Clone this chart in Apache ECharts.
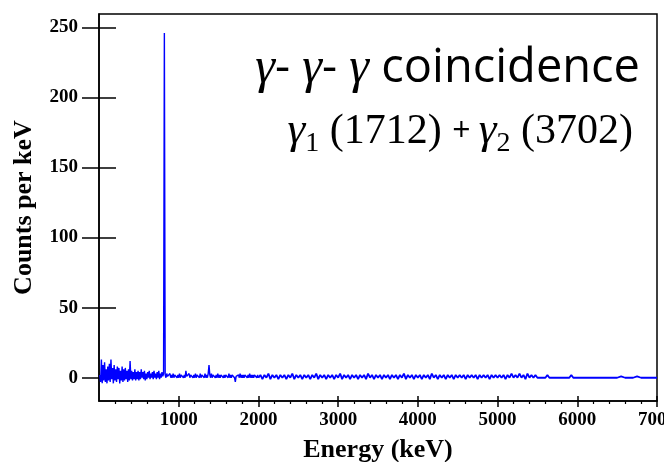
<!DOCTYPE html>
<html>
<head>
<meta charset="utf-8">
<script src="https://cdn.jsdelivr.net/npm/echarts@6/dist/echarts.min.js"></script>
<style>
  html, body { margin: 0; padding: 0; background: #ffffff; }
  #chart { width: 664px; height: 462px; }
</style>
</head>
<body>
<div id="chart"></div>
<script>
// Triple-coincidence gamma spectrum: counts per keV against energy.
// Low-energy part is stored in 10 keV bins, the rest in 25 keV bins.
const lowStart = 10, lowStep = 10;      // bins 10 .. 2000 keV
const highStart = 2025, highStep = 25;  // bins 2025 .. 7000 keV

const counts10to1000 = [
  2, -3, 13, -4, 9, -2, 11, -3, 6, -4,
  8, -2, 10, -3, 13, -1, 7, -4, 9, -2,
  6, -3, 8, -1, 7, -4, 5, -2, 8, -3,
  6, -2, 7, -1, 5, -3, 6, -2, 12, -1,
  5, -2, 4, -1, 6, -2, 4, -1, 5, -2,
  4, -1, 6, 0, 4, -1, 5, -2, 3, -1,
  4, 0, 5, -1, 3, 0, 4, -1, 5, 0,
  3, -1, 4, 0, 5, -1, 3, 0, 4, 1,
  3, 246, 2, 0, 3, 1, 2, 0, 3, 0,
  2, 0, 3, 0, 2, 1, 3, 0, 2, 0
];
const counts1010to2000 = [
  3, 0, 2, 1, 3, 0, 2, 0, 5, 1,
  2, 0, 3, 0, 2, 1, 3, 0, 2, 0,
  3, 0, 2, 1, 2, 0, 3, 0, 2, 1,
  2, 0, 3, 0, 2, 0, 3, 9, 2, 0,
  3, 0, 2, 1, 3, 0, 2, 0, 3, 0,
  2, 0, 2, 1, 3, 0, 2, 0, 2, 1,
  2, 0, 3, 0, 2, 0, 2, 1, 2, 0,
  -3, 1, 2, 0, 2, 0, 3, 0, 2, 0,
  2, 0, 2, 1, 2, 0, 2, 0, 3, 0,
  2, 0, 2, 0, 2, 1, 2, 0, 2, 0
];
const counts2025to4500 = [
  2, -1, 2, 0, 3, -1, 2, 0, 2, -1,
  2, 0, 2, -1, 2, 0, 3, -1, 2, 0,
  2, -1, 2, 0, 2, -1, 2, 0, 3, -1,
  2, 0, 2, -1, 2, 0, 2, -1, 2, 0,
  3, -1, 2, 0, 2, -1, 2, 0, 2, -1,
  2, 0, 2, -1, 3, 0, 2, -1, 2, 0,
  2, -1, 2, 0, 2, -1, 2, 0, 2, -1,
  2, 0, 3, -1, 2, 0, 2, -1, 2, 0,
  2, -1, 2, 0, 2, -1, 3, 0, 2, -1,
  2, 0, 2, -1, 2, 0, 2, -1, 2, 0
];
const counts4525to7000 = [
  2, 0, 2, -1, 2, 0, 2, 0, 2, -1,
  2, 0, 2, 0, 2, -1, 2, 0, 2, 0,
  2, 0, 2, -1, 2, 0, 3, 0, 2, 0,
  3, 0, 2, -1, 3, 0, 2, 0, 2, 0,
  1, 0, 1, 0, 2, 0, 1, 0, 1, 0,
  1, 0, 1, 0, 1, 0, 2, 0, 1, 0,
  1, 0, 1, 0, 1, 0, 1, 0, 0, 0,
  0, 0, 0, 0, 0, 0, 0, 0, 0, 0,
  0, 1, 0, 0, 0, 0, 0, 0, 0, 1,
  0, 0, 0, 0, 0, 0, 0, 0, 0, 0
];

const yTickValues = [0, 50, 100, 150, 200, 250];
const xTickValues = [1000, 2000, 3000, 4000, 5000, 6000, 7000];

// Pair each bin with its energy
const lowBins = counts10to1000.concat(counts1010to2000)
  .map((c, i) => [lowStart + i * lowStep, c]);
const highBins = counts2025to4500.concat(counts4525to7000)
  .map((c, i) => [highStart + i * highStep, c]);
// the coarse part continues from the last fine bin
const highTrace = [lowBins[lowBins.length - 1]].concat(highBins);

const serifBold = { fontFamily: 'Liberation Serif', fontWeight: 'bold', color: '#000' };
const plainNumber = v => String(v);
const yMin = -16.6, yMax = 259.5;

const chart = echarts.init(document.getElementById('chart'), null, { renderer: 'canvas' });
chart.setOption({
  animation: false,
  backgroundColor: '#ffffff',
  grid: {
    left: 99, right: 7, top: 14, bottom: 61,
    outerBoundsMode: 'none', containLabel: false,
    show: true, borderColor: '#000', borderWidth: 1.5, backgroundColor: 'transparent'
  },
  xAxis: [
    {
      type: 'value', min: 0, max: 7000, interval: 1000,
      name: 'Energy (keV)', nameLocation: 'middle', nameGap: 36,
      nameTextStyle: Object.assign({ fontSize: 26 }, serifBold),
      axisLine: { show: true, onZero: false, lineStyle: { color: '#000', width: 1.5 } },
      axisTick: { show: true, inside: false, length: 6, customValues: xTickValues,
                  lineStyle: { color: '#000', width: 1.5 } },
      minorTick: { show: true, splitNumber: 5, length: 3, lineStyle: { color: '#000', width: 1.2 } },
      axisLabel: Object.assign({ fontSize: 19, margin: 10, customValues: xTickValues,
                                 formatter: plainNumber }, serifBold),
      splitLine: { show: false }, minorSplitLine: { show: false }
    },
    {
      type: 'value', min: 0, max: 7000, interval: 1000, position: 'bottom',
      axisLine: { show: false, onZero: false },
      axisTick: { show: true, inside: true, length: 5, customValues: xTickValues,
                  lineStyle: { color: '#000', width: 1.5 } },
      axisLabel: { show: false }, splitLine: { show: false }
    }
  ],
  yAxis: [
    {
      type: 'value', min: yMin, max: yMax,
      name: 'Counts per keV', nameLocation: 'middle', nameGap: 62, nameRotate: 90,
      nameTextStyle: Object.assign({ fontSize: 26 }, serifBold),
      axisLine: { show: true, onZero: false, lineStyle: { color: '#000', width: 1.5 } },
      axisTick: { show: true, inside: false, length: 17, customValues: yTickValues,
                  lineStyle: { color: '#000', width: 1.5 } },
      axisLabel: Object.assign({ fontSize: 19, margin: 21, customValues: yTickValues,
                                 formatter: plainNumber }, serifBold),
      splitLine: { show: false }
    },
    {
      type: 'value', min: yMin, max: yMax, position: 'left',
      axisLine: { show: false, onZero: false },
      axisTick: { show: true, inside: true, length: 17, customValues: yTickValues,
                  lineStyle: { color: '#000', width: 1.5 } },
      axisLabel: { show: false }, splitLine: { show: false }
    }
  ],
  series: [
    {
      type: 'line', data: lowBins, xAxisIndex: 0, yAxisIndex: 0,
      showSymbol: false, lineStyle: { color: '#0000ff', width: 1.4 }, z: 1
    },
    {
      type: 'line', data: highTrace, xAxisIndex: 0, yAxisIndex: 0,
      showSymbol: false, lineStyle: { color: '#0000ff', width: 1.8 }, z: 1
    }
  ],
  graphic: [
    {
      type: 'text', right: 24, top: 44, z: 10,
      style: {
        text: '{g|γ}{s|- }{g|γ}{s|- }{g|γ}{s| coincidence}',
        fill: '#000',
        rich: {
          g: { fontFamily: 'Liberation Serif', fontStyle: 'italic', fontSize: 50, lineHeight: 58 },
          s: { fontFamily: 'Open Sans', fontSize: 47, lineHeight: 58 }
        }
      }
    },
    {
      type: 'text', right: 31, top: 109, z: 10,
      style: {
        text: '{g|γ}{sub|1}{n| (1712) }{p|+ }{g|γ}{sub|2}{n| (3702)}',
        fill: '#000',
        rich: {
          g: { fontFamily: 'Liberation Serif', fontStyle: 'italic', fontSize: 45, lineHeight: 52 },
          sub: { fontFamily: 'Liberation Serif', fontSize: 28, lineHeight: 28, verticalAlign: 'bottom' },
          n: { fontFamily: 'Liberation Serif', fontSize: 42, lineHeight: 52 },
          p: { fontFamily: 'Open Sans', fontSize: 32, lineHeight: 52 }
        }
      }
    }
  ]
});
</script>
</body>
</html>
